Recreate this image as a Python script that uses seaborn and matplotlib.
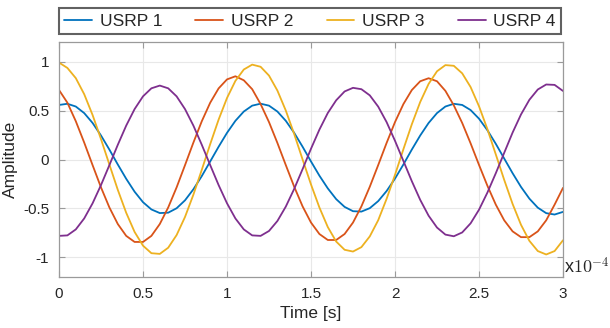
import numpy as np
import pandas as pd
import matplotlib
matplotlib.use("Agg")
import matplotlib.pyplot as plt
import seaborn as sns

# time axis in units of 1e-4 s
time_e4 = np.linspace(0, 3, 61)

usrp1 = [0.557, 0.569, 0.541, 0.474, 0.373, 0.245, 0.101, -0.051, -0.197, -0.329,
         -0.436, -0.510, -0.547, -0.543, -0.498, -0.417, -0.304, -0.169, -0.020, 0.130,
         0.272, 0.395, 0.490, 0.550, 0.570, 0.550, 0.490, 0.395, 0.272, 0.130,
         -0.020, -0.165, -0.295, -0.405, -0.484, -0.528, -0.532, -0.497, -0.425, -0.322,
         -0.195, -0.051, 0.101, 0.245, 0.373, 0.474, 0.541, 0.569, 0.557, 0.505,
         0.417, 0.299, 0.160, 0.010, -0.140, -0.280, -0.400, -0.492, -0.548, -0.562,
         -0.535]

usrp2 = [0.710, 0.580, 0.391, 0.173, -0.058, -0.285, -0.490, -0.659, -0.780, -0.842,
         -0.842, -0.780, -0.659, -0.490, -0.285, -0.058, 0.173, 0.391, 0.580, 0.726,
         0.818, 0.850, 0.809, 0.718, 0.566, 0.382, 0.169, -0.057, -0.278, -0.479,
         -0.644, -0.761, -0.822, -0.822, -0.761, -0.644, -0.479, -0.278, -0.057, 0.169,
         0.382, 0.566, 0.709, 0.799, 0.830, 0.799, 0.701, 0.553, 0.373, 0.165,
         -0.055, -0.268, -0.461, -0.621, -0.734, -0.793, -0.793, -0.734, -0.621, -0.461,
         -0.290]

usrp3 = [0.990, 0.935, 0.831, 0.667, 0.454, 0.208, -0.052, -0.310, -0.544, -0.740,
         -0.880, -0.957, -0.964, -0.901, -0.772, -0.587, -0.359, -0.105, 0.157, 0.407,
         0.628, 0.803, 0.919, 0.969, 0.947, 0.857, 0.704, 0.500, 0.260, 0.000,
         -0.255, -0.490, -0.690, -0.838, -0.922, -0.940, -0.895, -0.785, -0.620, -0.402,
         -0.157, 0.105, 0.359, 0.587, 0.772, 0.901, 0.964, 0.957, 0.880, 0.740,
         0.544, 0.310, 0.052, -0.208, -0.454, -0.667, -0.831, -0.935, -0.970, -0.935,
         -0.825]

usrp4 = [-0.780, -0.775, -0.714, -0.602, -0.447, -0.261, -0.057, 0.150, 0.346, 0.515,
         0.645, 0.727, 0.755, 0.727, 0.645, 0.515, 0.346, 0.150, -0.057, -0.261,
         -0.447, -0.602, -0.714, -0.775, -0.780, -0.730, -0.628, -0.481, -0.300, -0.098,
         0.110, 0.305, 0.475, 0.605, 0.695, 0.732, 0.718, 0.655, 0.540, 0.382,
         0.191, -0.015, -0.221, -0.412, -0.574, -0.695, -0.767, -0.784, -0.745, -0.652,
         -0.513, -0.338, -0.140, 0.068, 0.275, 0.460, 0.610, 0.715, 0.766, 0.762,
         0.700]

series_names = ["USRP 1", "USRP 2", "USRP 3", "USRP 4"]
series_colors = ["#0072BD", "#D95319", "#EDB120", "#7E2F8E"]

xticks = [0, 0.5, 1, 1.5, 2, 2.5, 3]
xticklabels = ["0", "0.5", "1", "1.5", "2", "2.5", "3"]
yticks = [-1, -0.5, 0, 0.5, 1]
yticklabels = ["-1", "-0.5", "0", "0.5", "1"]

frames = []
for name, vals in zip(series_names, [usrp1, usrp2, usrp3, usrp4]):
    frames.append(pd.DataFrame({"time": time_e4, "amp": vals, "series": name}))
df = pd.concat(frames, ignore_index=True)

sns.set_style("ticks")
plt.rcParams["font.family"] = ["Liberation Sans", "DejaVu Sans"]
plt.rcParams["axes.unicode_minus"] = False
plt.rcParams["mathtext.fontset"] = "cm"

spine_col = "#9a9a9a"
text_col = "#262626"

fig = plt.figure(figsize=(6.10, 3.28), dpi=100)
ax = fig.add_axes([59 / 610, 1 - 277 / 328, (563 - 59) / 610, (277 - 42) / 328])

sns.lineplot(data=df, x="time", y="amp", hue="series", hue_order=series_names,
             palette=series_colors, linewidth=1.3, ax=ax, legend=False,
             estimator=None, sort=False)

ax.set_xlim(0, 3)
ax.set_ylim(-1.2, 1.2)
ax.set_xticks(xticks)
ax.set_xticklabels(xticklabels)
ax.set_yticks(yticks)
ax.set_yticklabels(yticklabels)
ax.grid(True, color="#e8e8e8", linewidth=0.8)
ax.set_axisbelow(True)
for s in ax.spines.values():
    s.set_visible(True)
    s.set_color(spine_col)
    s.set_linewidth(0.9)
ax.tick_params(direction="in", top=True, right=True, length=4, width=0.8,
               color=spine_col, labelsize=11, labelcolor=text_col, pad=7)

ax.set_xlabel("Time [s]", fontsize=12.5, color=text_col, labelpad=4)
ax.set_ylabel("Amplitude", fontsize=12.5, color=text_col, labelpad=4)

ax.text(1.002, 0.0, r"x$10^{-4}$", transform=ax.transAxes, fontsize=13,
        ha="left", va="bottom", color=text_col)

handles = ax.get_lines()[:4]
leg = ax.legend(handles, series_names, loc="lower left",
                bbox_to_anchor=(0, 1.034, 0.996, 0.1), mode="expand", ncol=4,
                borderaxespad=0, fontsize=12.5, frameon=True, fancybox=False,
                handlelength=1.6, handletextpad=0.45, borderpad=0.3,
                columnspacing=1.0)
leg.get_frame().set_edgecolor("#3a3a3a")
leg.get_frame().set_linewidth(1.5)
for t in leg.get_texts():
    t.set_color(text_col)

fig.savefig("out.png", dpi=100)
